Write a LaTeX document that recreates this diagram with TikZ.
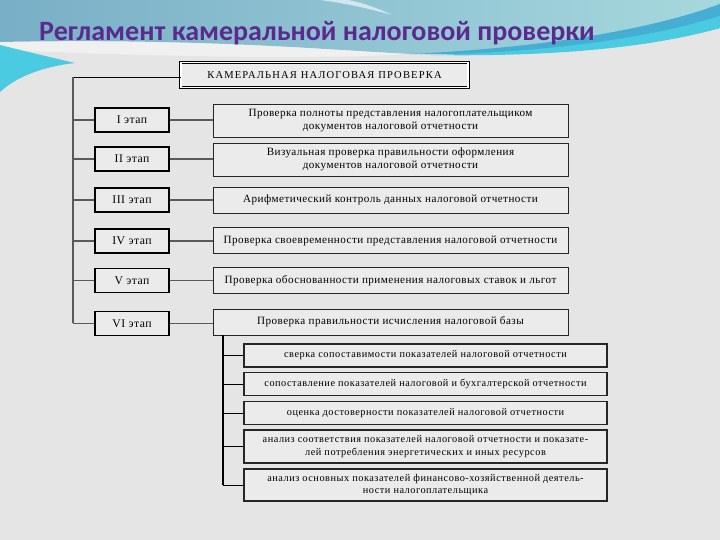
\documentclass[tikz,border=0pt]{standalone}
\usepackage{fontspec}
\setmainfont{Liberation Serif}
\newfontfamily\titlefont{Carlito}
\newfontfamily\boxfont{Liberation Serif}[LetterSpace=4]
\newfontfamily\subfont{Liberation Serif}[LetterSpace=5]
\newfontfamily\capsfont{Liberation Serif}[LetterSpace=11]
\usetikzlibrary{positioning}
\definecolor{slideGrey}{HTML}{E5E5E5}
\definecolor{boxGrey}{HTML}{EBEBEB}
\definecolor{topBlue}{HTML}{79AFC7}
\definecolor{topAqua}{HTML}{A6D8DD}
\definecolor{waveBlue}{HTML}{45AED2}
\definecolor{waveCyan}{HTML}{4ACBE2}
\definecolor{titlePurple}{HTML}{5B2A8E}
\definecolor{lineGrey}{HTML}{5A5A5A}

\begin{document}
\begin{tikzpicture}[
    x=0.03cm, y=-0.03cm,
    stage/.style={draw=black, line width=1.3pt, fill=boxGrey, minimum width=2.22cm, minimum height=0.72cm, inner sep=1pt, font=\boxfont\fontsize{10}{11}\selectfont},
    check/.style={draw=black!85, line width=0.6pt, fill=boxGrey, minimum width=10.65cm, minimum height=0.78cm, inner sep=1pt, align=center, font=\boxfont\fontsize{9.5}{11}\selectfont},
    analysis/.style={draw=black!85, line width=1pt, fill=boxGrey, minimum width=10.89cm, minimum height=0.69cm, inner sep=1pt, align=center, font=\subfont\fontsize{8.8}{11}\selectfont},
    spine/.style={draw=lineGrey, line width=1.8pt},
    link/.style={draw=lineGrey, line width=1.1pt},
    thinlink/.style={draw=black, line width=0.7pt}
]
    \useasboundingbox (0,0) rectangle (720,540);

    % background of the slide
    \fill[slideGrey] (0,0) rectangle (720,540);
    \shade[left color=topBlue, right color=topAqua]
        (0,0) -- (720,0) -- (720,10) .. controls (650,34) and (540,50) .. (410,54)
        .. controls (330,50) and (200,38) .. (0,42) -- cycle;
    \fill[white, opacity=0.45] (0,42) .. controls (200,38) and (330,50) .. (410,54)
        .. controls (300,60) and (150,56) .. (0,50) -- cycle;
    \fill[white, opacity=0.6] (320,0) .. controls (350,4) and (370,9) .. (392,15)
        .. controls (375,7) and (360,2) .. (348,0) -- cycle;
    \fill[waveBlue] (720,4) .. controls (650,30) and (540,48) .. (410,54)
        .. controls (540,56) and (650,45) .. (720,28) -- cycle;
    \fill[waveCyan] (720,16) .. controls (650,38) and (550,52) .. (430,55)
        .. controls (550,57) and (650,48) .. (720,28) -- cycle;
    \fill[waveCyan] (0,45) .. controls (20,50) and (45,56) .. (75,63)
        .. controls (40,67) and (15,78) .. (0,92) -- cycle;

    % title
    \node[anchor=west, text=titlePurple, font=\titlefont\bfseries\fontsize{23.9}{28}\selectfont]
        (title) at (35,33) {Регламент камеральной налоговой проверки};

    % head box
    \node[draw=black, line width=0.5pt, double, double distance=1.3pt, fill=boxGrey,
          minimum width=8.62cm, minimum height=0.74cm, font=\capsfont\fontsize{9}{10}\selectfont]
        (K) at (324.5,75) {КАМЕРАЛЬНАЯ НАЛОГОВАЯ ПРОВЕРКА};

    % stages
    \node[stage] (E1) at (132,120) {I этап};
    \node[stage] (E2) at (132,159) {II этап};
    \node[stage] (E3) at (132,200) {III этап};
    \node[stage] (E4) at (132,241) {IV этап};
    \node[stage] (E5) at (132,280.5) {V этап};
    \node[stage] (E6) at (132,323.5) {VI этап};

    % checks of each stage
    \node[check, minimum height=0.99cm] (P1) at (390.5,120.5) {Проверка полноты представления налогоплательщиком\\документов налоговой отчетности};
    \node[check, minimum height=0.99cm] (P2) at (390.5,159.5) {Визуальная проверка правильности оформления\\документов налоговой отчетности};
    \node[check] (P3) at (390.5,200) {Арифметический контроль данных налоговой отчетности};
    \node[check] (P4) at (390.5,240.5) {Проверка своевременности представления налоговой отчетности};
    \node[check] (P5) at (390.5,280.5) {Проверка обоснованности применения налоговых ставок и льгот};
    \node[check] (P6) at (390.5,322) {Проверка правильности исчисления налоговой базы};

    % parts of the sixth stage
    \node[analysis] (A1) at (425.5,355.5) {сверка сопоставимости показателей налоговой отчетности};
    \node[analysis] (A2) at (425.5,384) {сопоставление показателей налоговой и бухгалтерской отчетности};
    \node[analysis] (A3) at (425.5,413) {оценка достоверности показателей налоговой отчетности};
    \node[analysis, minimum height=0.99cm] (A4) at (425.5,446.5) {анализ соответствия показателей налоговой отчетности и показате-\\лей потребления энергетических и иных ресурсов};
    \node[analysis, minimum height=0.96cm] (A5) at (425.5,485) {анализ основных показателей финансово-хозяйственной деятель-\\ности налогоплательщика};

    % connectors
    \coordinate (T) at (73,77);
    \coordinate (S) at (223,336);
    \draw[thinlink] (T) -- (T -| K.west);
    \draw[spine] (T) -- (T |- E6);
    \draw[link] (T |- E1) -- (E1.west);
    \draw[link] (T |- E2) -- (E2.west);
    \draw[link] (T |- E3) -- (E3.west);
    \draw[link] (T |- E4) -- (E4.west);
    \draw[link] (T |- E5) -- (E5.west);
    \draw[link] (T |- E6) -- (E6.west);
    \draw[link] (E1.east) -- (E1.east -| P1.west);
    \draw[link] (E2.east) -- (E2.east -| P2.west);
    \draw[link] (E3.east) -- (E3.east -| P3.west);
    \draw[link] (E4.east) -- (E4.east -| P4.west);
    \draw[link] (E5.east) -- (E5.east -| P5.west);
    \draw[link] (E6.east) -- (E6.east -| P6.west);
    \draw[thinlink, line width=1.6pt] (S |- P6.south) -- (S |- A5);
    \draw[thinlink] (S |- A1) -- (A1.west);
    \draw[thinlink] (S |- A2) -- (A2.west);
    \draw[thinlink] (S |- A3) -- (A3.west);
    \draw[thinlink] (S |- A4) -- (A4.west);
    \draw[thinlink] (S |- A5) -- (A5.west);
\end{tikzpicture}
\end{document}
